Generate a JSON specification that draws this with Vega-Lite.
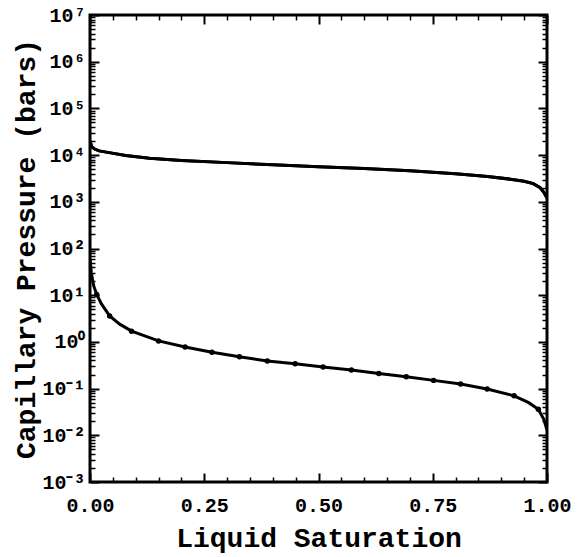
{
  "$schema": "https://vega.github.io/schema/vega-lite/v6.json",
  "autosize": "none",
  "width": 457,
  "height": 467,
  "padding": {"left": 90, "top": 15, "right": 30, "bottom": 75},
  "background": "white",
  "view": {"stroke": "black", "strokeWidth": 3},
  "config": {
    "axis": {
      "domain": false,
      "grid": false,
      "tickColor": "black",
      "labelColor": "black",
      "labelFont": "Liberation Mono",
      "labelFontWeight": "bold",
      "labelFontSize": 20,
      "labelFlush": false,
      "labelOverlap": false,
      "titleColor": "black",
      "titleFont": "Liberation Mono",
      "titleFontWeight": "bold",
      "titleFontSize": 28
    }
  },
  "datasets": {
    "upper": [
      {"s": 0.0, "p": 20000}, {"s": 0.004, "p": 15000}, {"s": 0.01, "p": 13500},
      {"s": 0.02, "p": 12300}, {"s": 0.042, "p": 11300}, {"s": 0.078, "p": 9800},
      {"s": 0.13, "p": 8600}, {"s": 0.2, "p": 7700}, {"s": 0.3, "p": 6900},
      {"s": 0.4, "p": 6200}, {"s": 0.5, "p": 5650}, {"s": 0.6, "p": 5150},
      {"s": 0.7, "p": 4650}, {"s": 0.8, "p": 4000}, {"s": 0.87, "p": 3500},
      {"s": 0.92, "p": 3050}, {"s": 0.95, "p": 2750}, {"s": 0.97, "p": 2450},
      {"s": 0.985, "p": 2000}, {"s": 0.993, "p": 1600}, {"s": 1.0, "p": 1200}
    ],
    "lower": [
      {"s": 0.0, "p": 60, "marker": false}, {"s": 0.003, "p": 30, "marker": false},
      {"s": 0.008, "p": 16, "marker": false}, {"s": 0.0147, "p": 10.4, "marker": true},
      {"s": 0.025, "p": 6.5, "marker": false}, {"s": 0.043, "p": 3.6, "marker": true},
      {"s": 0.065, "p": 2.4, "marker": false}, {"s": 0.091, "p": 1.7, "marker": true},
      {"s": 0.15, "p": 1.05, "marker": true}, {"s": 0.208, "p": 0.78, "marker": true},
      {"s": 0.267, "p": 0.6, "marker": true}, {"s": 0.327, "p": 0.48, "marker": true},
      {"s": 0.388, "p": 0.39, "marker": true}, {"s": 0.449, "p": 0.34, "marker": true},
      {"s": 0.51, "p": 0.29, "marker": true}, {"s": 0.572, "p": 0.25, "marker": true},
      {"s": 0.632, "p": 0.21, "marker": true}, {"s": 0.692, "p": 0.18, "marker": true},
      {"s": 0.752, "p": 0.15, "marker": true}, {"s": 0.811, "p": 0.125, "marker": true},
      {"s": 0.869, "p": 0.098, "marker": true}, {"s": 0.928, "p": 0.07, "marker": true},
      {"s": 0.96, "p": 0.05, "marker": false}, {"s": 0.981, "p": 0.036, "marker": true},
      {"s": 0.993, "p": 0.022, "marker": false}, {"s": 1.0, "p": 0.013, "marker": false}
    ]
  },
  "resolve": {"axis": {"x": "independent", "y": "independent"}},
  "layer": [
    {
      "data": {"name": "upper"},
      "mark": {"type": "line", "color": "black", "strokeWidth": 3, "clip": true},
      "encoding": {
        "x": {
          "field": "s", "type": "quantitative",
          "scale": {"domain": [0, 1], "nice": false, "zero": false},
          "axis": {
            "orient": "bottom", "values": [0, 0.25, 0.5, 0.75, 1], "format": ".2f",
            "tickSize": -9, "tickWidth": 2, "labelPadding": 22,
            "title": "Liquid Saturation", "titleY": 56, "titleBaseline": "middle"
          }
        },
        "y": {
          "field": "p", "type": "quantitative",
          "scale": {"type": "log", "domain": [0.001, 10000000], "nice": false},
          "axis": {
            "orient": "left",
            "values": [0.001, 0.01, 0.1, 1, 10, 100, 1000, 10000, 100000, 1000000, 10000000],
            "labelExpr": "datum.value > 5e6 ? '10⁷' : datum.value > 5e5 ? '10⁶' : datum.value > 5e4 ? '10⁵' : datum.value > 5e3 ? '10⁴' : datum.value > 500 ? '10³' : datum.value > 50 ? '10²' : datum.value > 5 ? '10¹' : datum.value > 0.5 ? '10⁰' : datum.value > 0.05 ? '10⁻¹' : datum.value > 0.005 ? '10⁻²' : '10⁻³'",
            "tickSize": -9, "tickWidth": 2, "labelPadding": 14,
            "title": "Capillary Pressure (bars)", "titleX": -64, "titleBaseline": "middle"
          }
        }
      }
    },
    {
      "data": {"name": "lower"},
      "mark": {"type": "line", "color": "black", "strokeWidth": 3, "clip": true},
      "encoding": {
        "x": {
          "field": "s", "type": "quantitative",
          "axis": {
            "orient": "top", "values": [0, 0.25, 0.5, 0.75, 1],
            "tickSize": -9, "tickWidth": 2, "labels": false, "title": null
          }
        },
        "y": {
          "field": "p", "type": "quantitative",
          "axis": {
            "orient": "right",
            "values": [0.001, 0.01, 0.1, 1, 10, 100, 1000, 10000, 100000, 1000000, 10000000],
            "tickSize": -9, "tickWidth": 2, "labels": false, "title": null
          }
        }
      }
    },
    {
      "data": {"name": "lower"},
      "transform": [{"filter": "datum.marker"}],
      "mark": {"type": "point", "filled": true, "color": "black", "size": 30, "opacity": 1},
      "encoding": {
        "x": {
          "field": "s", "type": "quantitative",
          "axis": {
            "orient": "bottom",
            "values": [0.05, 0.1, 0.15, 0.2, 0.3, 0.35, 0.4, 0.45, 0.55, 0.6, 0.65, 0.7, 0.8, 0.85, 0.9, 0.95],
            "tickSize": -5, "tickWidth": 1.5, "labels": false, "title": null
          }
        },
        "y": {
          "field": "p", "type": "quantitative",
          "axis": {
            "orient": "left",
            "values": [0.002, 0.003, 0.004, 0.005, 0.006, 0.007, 0.008, 0.009,
                       0.02, 0.03, 0.04, 0.05, 0.06, 0.07, 0.08, 0.09,
                       0.2, 0.3, 0.4, 0.5, 0.6, 0.7, 0.8, 0.9,
                       2, 3, 4, 5, 6, 7, 8, 9,
                       20, 30, 40, 50, 60, 70, 80, 90,
                       200, 300, 400, 500, 600, 700, 800, 900,
                       2000, 3000, 4000, 5000, 6000, 7000, 8000, 9000,
                       20000, 30000, 40000, 50000, 60000, 70000, 80000, 90000,
                       200000, 300000, 400000, 500000, 600000, 700000, 800000, 900000,
                       2000000, 3000000, 4000000, 5000000, 6000000, 7000000, 8000000, 9000000],
            "tickSize": -5, "tickWidth": 1.5, "labels": false, "title": null
          }
        }
      }
    },
    {
      "data": {"name": "upper"},
      "mark": {"type": "line", "color": "black", "strokeWidth": 3, "clip": true},
      "encoding": {
        "x": {
          "field": "s", "type": "quantitative",
          "axis": {
            "orient": "top",
            "values": [0.05, 0.1, 0.15, 0.2, 0.3, 0.35, 0.4, 0.45, 0.55, 0.6, 0.65, 0.7, 0.8, 0.85, 0.9, 0.95],
            "tickSize": -5, "tickWidth": 1.5, "labels": false, "title": null
          }
        },
        "y": {
          "field": "p", "type": "quantitative",
          "axis": {
            "orient": "right",
            "values": [0.002, 0.003, 0.004, 0.005, 0.006, 0.007, 0.008, 0.009,
                       0.02, 0.03, 0.04, 0.05, 0.06, 0.07, 0.08, 0.09,
                       0.2, 0.3, 0.4, 0.5, 0.6, 0.7, 0.8, 0.9,
                       2, 3, 4, 5, 6, 7, 8, 9,
                       20, 30, 40, 50, 60, 70, 80, 90,
                       200, 300, 400, 500, 600, 700, 800, 900,
                       2000, 3000, 4000, 5000, 6000, 7000, 8000, 9000,
                       20000, 30000, 40000, 50000, 60000, 70000, 80000, 90000,
                       200000, 300000, 400000, 500000, 600000, 700000, 800000, 900000,
                       2000000, 3000000, 4000000, 5000000, 6000000, 7000000, 8000000, 9000000],
            "tickSize": -5, "tickWidth": 1.5, "labels": false, "title": null
          }
        }
      }
    }
  ]
}
